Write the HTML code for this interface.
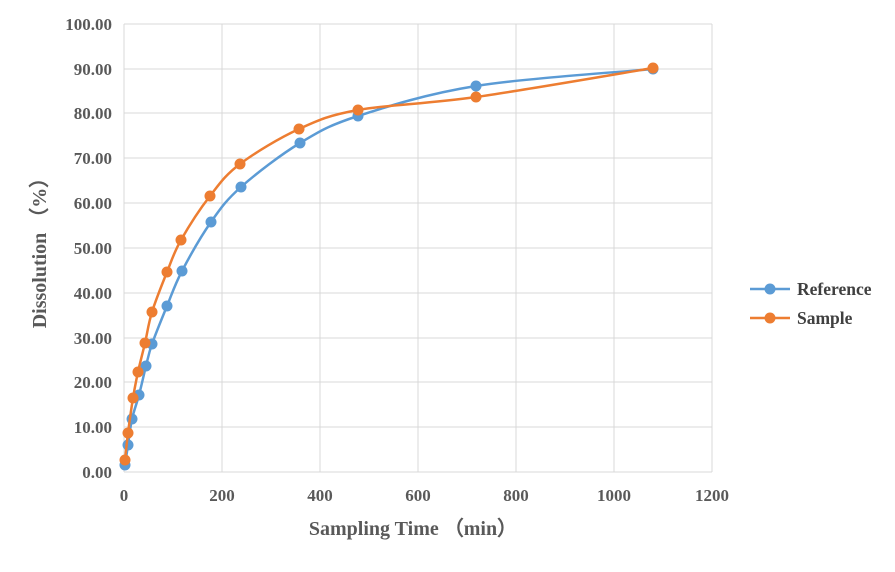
<!DOCTYPE html>
<html><head><meta charset="utf-8"><style>
body{margin:0;background:#fff;}
text{font-family:"Liberation Serif",serif;font-weight:bold;fill:#595959;}
</style></head><body>
<svg id="s" width="895" height="567" xmlns="http://www.w3.org/2000/svg">
<g stroke="#d9d9d9" stroke-width="1">
<line x1="124" y1="24" x2="712" y2="24"/><line x1="124" y1="69" x2="712" y2="69"/>
<line x1="124" y1="113" x2="712" y2="113"/><line x1="124" y1="158" x2="712" y2="158"/>
<line x1="124" y1="203" x2="712" y2="203"/><line x1="124" y1="248" x2="712" y2="248"/>
<line x1="124" y1="293" x2="712" y2="293"/><line x1="124" y1="338" x2="712" y2="338"/>
<line x1="124" y1="382" x2="712" y2="382"/><line x1="124" y1="427" x2="712" y2="427"/>
<line x1="222" y1="24" x2="222" y2="472"/><line x1="320" y1="24" x2="320" y2="472"/>
<line x1="418" y1="24" x2="418" y2="472"/><line x1="516" y1="24" x2="516" y2="472"/>
<line x1="614" y1="24" x2="614" y2="472"/><line x1="712" y1="24" x2="712" y2="472"/>
<line x1="124" y1="472" x2="712" y2="472"/><line x1="124" y1="24" x2="124" y2="472"/>
</g>
<g font-size="17" text-anchor="end">
<text x="112" y="30">100.00</text><text x="112" y="75">90.00</text><text x="112" y="119">80.00</text>
<text x="112" y="164">70.00</text><text x="112" y="209">60.00</text><text x="112" y="254">50.00</text>
<text x="112" y="299">40.00</text><text x="112" y="344">30.00</text><text x="112" y="388">20.00</text>
<text x="112" y="433">10.00</text><text x="112" y="478">0.00</text>
</g>
<g font-size="17" text-anchor="middle">
<text x="124" y="501">0</text><text x="222" y="501">200</text><text x="320" y="501">400</text>
<text x="418" y="501">600</text><text x="516" y="501">800</text><text x="614" y="501">1000</text><text x="712" y="501">1200</text>
</g>
<text x="413" y="535" font-size="20" text-anchor="middle">Sampling Time （min）</text>
<text transform="translate(46,248) rotate(-90)" font-size="20" text-anchor="middle">Dissolution （%）</text>
<g id="series"></g>
<line x1="750" y1="289" x2="790" y2="289" stroke="#5b9bd5" stroke-width="2.5"/><circle cx="770" cy="289" r="5.5" fill="#5b9bd5"/>
<text x="797" y="295" font-size="17.5" style="fill:#404040">Reference</text>
<line x1="750" y1="318" x2="790" y2="318" stroke="#ed7d31" stroke-width="2.5"/><circle cx="770" cy="318" r="5.5" fill="#ed7d31"/>
<text x="797" y="324" font-size="17.5" style="fill:#404040">Sample</text>
</svg>
<script>
var B=[[125,465],[128,445],[132,419],[139,395],[146,366],[152,344],[167,306],[182,271],[211,222],[241,187],[300,143],[358,116],[476,86],[653,69]];
var O=[[125,460],[128,433],[133,398],[138,372],[145,343],[152,312],[167,272],[181,240],[210,196],[240,164],[299,129],[358,110],[476,97],[653,68]];
function path(p){var d="M"+p[0][0]+","+p[0][1];for(var i=0;i<p.length-1;i++){var a=p[i-1]||p[i],b=p[i],c=p[i+1],e=p[i+2]||c;var t=1/6;
d+=" C"+(b[0]+(c[0]-a[0])*t)+","+(b[1]+(c[1]-a[1])*t)+" "+(c[0]-(e[0]-b[0])*t)+","+(c[1]-(e[1]-b[1])*t)+" "+c[0]+","+c[1];}return d;}
var g=document.getElementById("series"),h="";
[[B,"#5b9bd5"],[O,"#ed7d31"]].forEach(function(s){h+='<path d="'+path(s[0])+'" fill="none" stroke="'+s[1]+'" stroke-width="2.5"/>';
s[0].forEach(function(p){h+='<circle cx="'+p[0]+'" cy="'+p[1]+'" r="5.5" fill="'+s[1]+'"/>';});});
g.innerHTML=h;
</script>
</body></html>
